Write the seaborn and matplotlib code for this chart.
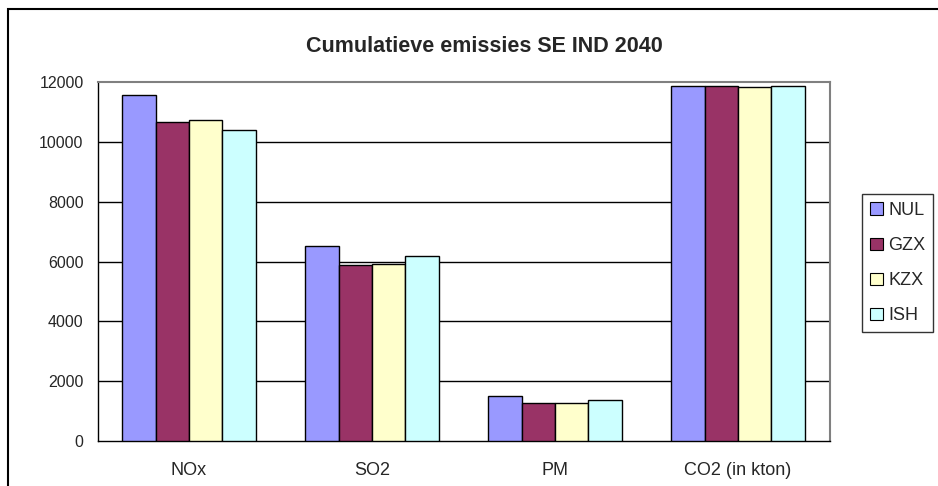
import matplotlib
matplotlib.use("Agg")
import matplotlib.pyplot as plt
from matplotlib.patches import Rectangle
import seaborn as sns
import pandas as pd

# Cumulative emissions per pollutant and scenario
categories = ["NOx", "SO2", "PM", "CO2 (in kton)"]
scenarios = ["NUL", "GZX", "KZX", "ISH"]
nul = [11550, 6520, 1500, 11870]
gzx = [10650, 5890, 1280, 11870]
kzx = [10720, 5920, 1280, 11830]
ish = [10400, 6200, 1360, 11870]
colors = ["#9999FF", "#993366", "#FFFFCC", "#CCFFFF"]
yticks = [0, 2000, 4000, 6000, 8000, 10000, 12000]

rows = []
for scen, vals in zip(scenarios, [nul, gzx, kzx, ish]):
    for cat, v in zip(categories, vals):
        rows.append({"categorie": cat, "scenario": scen, "waarde": v})
df = pd.DataFrame(rows)

sns.set_style("white")
plt.rcParams["font.family"] = ["Liberation Sans", "DejaVu Sans"]

W, H = 938, 486
fig = plt.figure(figsize=(W / 100, H / 100), dpi=100)
ax = fig.add_axes([97.5 / W, 1 - 441 / H, (829.5 - 97.5) / W, 359 / H])

sns.barplot(data=df, x="categorie", y="waarde", hue="scenario",
            order=categories, hue_order=scenarios, palette=colors,
            width=0.73, edgecolor="black", linewidth=1.0, saturation=1,
            ax=ax, zorder=3)

ax.set_xlim(-0.5, len(categories) - 0.5)
ax.set_ylim(0, 12000)
ax.set_yticks(yticks)
ax.set_yticklabels([str(t) for t in yticks], fontsize=11.5)
ax.set_xlabel("")
ax.set_ylabel("")

# horizontal gridlines
for t in yticks[1:-1]:
    ax.axhline(t, color="black", lw=1.0, zorder=1)

# category labels centred, tick marks between categories
ax.set_xticks(range(len(categories)))
ax.set_xticklabels(categories, fontsize=13)
ax.tick_params(axis="x", which="major", length=0, pad=15)
ax.set_xticks([i - 0.5 for i in range(len(categories) + 1)], minor=True)
ax.tick_params(axis="x", which="minor", length=6, width=1, color="black", direction="out")
ax.tick_params(axis="y", length=6, width=1, color="black", direction="out", pad=4)

for side in ["top", "right"]:
    ax.spines[side].set_color("#808080")
    ax.spines[side].set_linewidth(1.5)
for side in ["left", "bottom"]:
    ax.spines[side].set_color("black")
    ax.spines[side].set_linewidth(1.0)

# legend at the right
handles, labels = ax.get_legend_handles_labels()
if ax.legend_:
    ax.legend_.remove()
leg = fig.legend(handles, labels, loc="upper left",
                 bbox_to_anchor=(862 / W, 1 - 194 / H), frameon=True,
                 fancybox=False, fontsize=13, handlelength=0.7, handleheight=0.7,
                 handletextpad=0.3, labelspacing=1.0, borderpad=0.45,
                 borderaxespad=0)
leg.get_frame().set_edgecolor("black")
leg.get_frame().set_linewidth(1.0)
for h in leg.legend_handles:
    h.set_edgecolor("black")
    h.set_linewidth(0.8)

fig.text(484 / W, 1 - 46 / H, "Cumulatieve emissies SE IND 2040",
         ha="center", va="center", fontsize=15.5, fontweight="bold")

# chart area border
fig.patches.append(Rectangle((8 / W, -0.1), 1.2, 1.1 - 9 / H,
                             transform=fig.transFigure, fill=False,
                             edgecolor="black", lw=1.5))

fig.savefig("out.png", dpi=100)
